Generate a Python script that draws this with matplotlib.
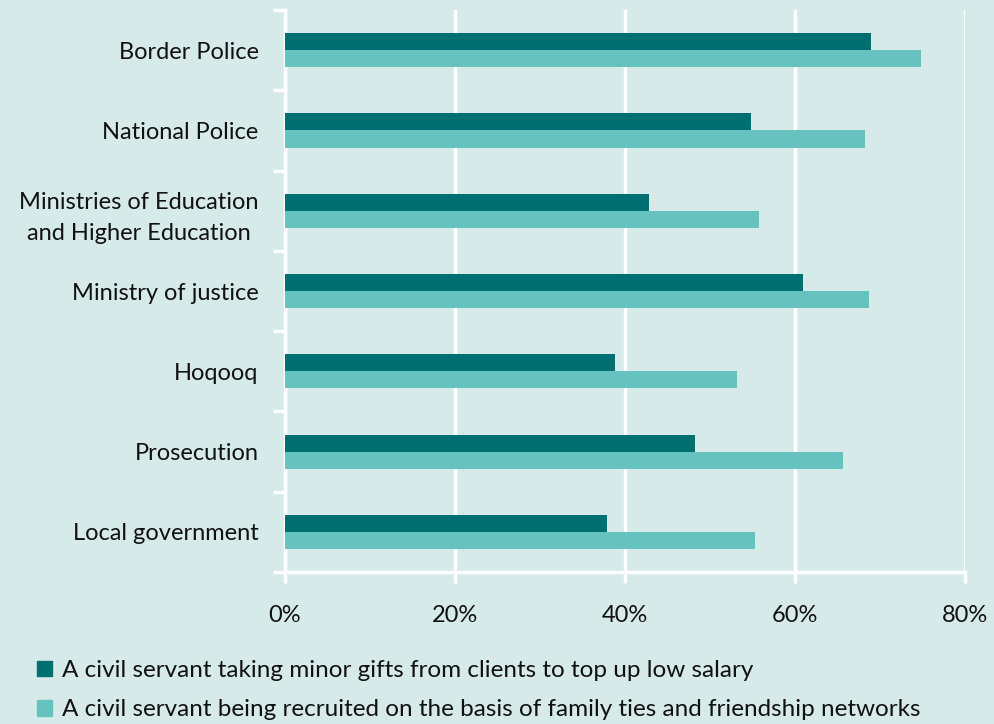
import numpy as np
import matplotlib.pyplot as plt
from matplotlib.patches import Patch

plt.rcParams['font.family'] = ['Lato', 'DejaVu Sans']

categories = ['Border Police', 'National Police',
              'Ministries of Education\nand Higher Education',
              'Ministry of justice', 'Hoqooq', 'Prosecution',
              'Local government']
gifts = [68.9, 54.8, 42.8, 60.9, 38.8, 48.2, 37.9]
recruit = [74.8, 68.2, 55.8, 68.7, 53.2, 65.6, 55.3]
series_names = ['A civil servant taking minor gifts from clients to top up low salary',
                'A civil servant being recruited on the basis of family ties and friendship networks']
xticks = [0, 20, 40, 60, 80]

bg = '#d6ebe9'
dark = '#006f71'
light = '#66c2be'

fig = plt.figure(figsize=(9.94, 7.24), dpi=100, facecolor=bg)
ax = fig.add_axes([0.2867, 0.2099, 0.6841, 0.7762], facecolor=bg)

y = np.arange(len(categories))[::-1]
h = 0.2125
ax.barh(y + h / 2, gifts, height=h, color=dark, zorder=3)
ax.barh(y - h / 2, recruit, height=h, color=light, zorder=3)

ax.set_xlim(0, 80)
ax.set_ylim(-0.5, len(categories) - 0.5)
ax.set_xticks(xticks)
ax.set_xticklabels([f'{v}%' for v in xticks], fontsize=17, color='#111111')
ax.set_yticks(y)
ax.set_yticklabels(categories, fontsize=17, color='#111111',
                   multialignment='center', linespacing=1.6)
ax.set_yticks(np.arange(-0.5, len(categories), 1), minor=True)
ax.tick_params(axis='y', which='major', length=0, pad=19)
ax.tick_params(axis='y', which='minor', length=9, width=2.5, color='white')
ax.tick_params(axis='x', length=8, width=2.5, color='white', pad=16)
ax.grid(axis='x', color='white', linewidth=2.5, zorder=0)
for s in ['top', 'right']:
    ax.spines[s].set_visible(False)
for s in ['left', 'bottom']:
    ax.spines[s].set_color('white')
    ax.spines[s].set_linewidth(2.5)

handles = [Patch(color=dark), Patch(color=light)]
fig.legend(handles, series_names, loc='lower left', bbox_to_anchor=(0.015, -0.025),
           frameon=False, fontsize=17.5, handlelength=0.62, handleheight=0.62,
           handletextpad=0.4, labelspacing=0.75, labelcolor='#111111')

fig.savefig('out.png', dpi=100, facecolor=bg)
